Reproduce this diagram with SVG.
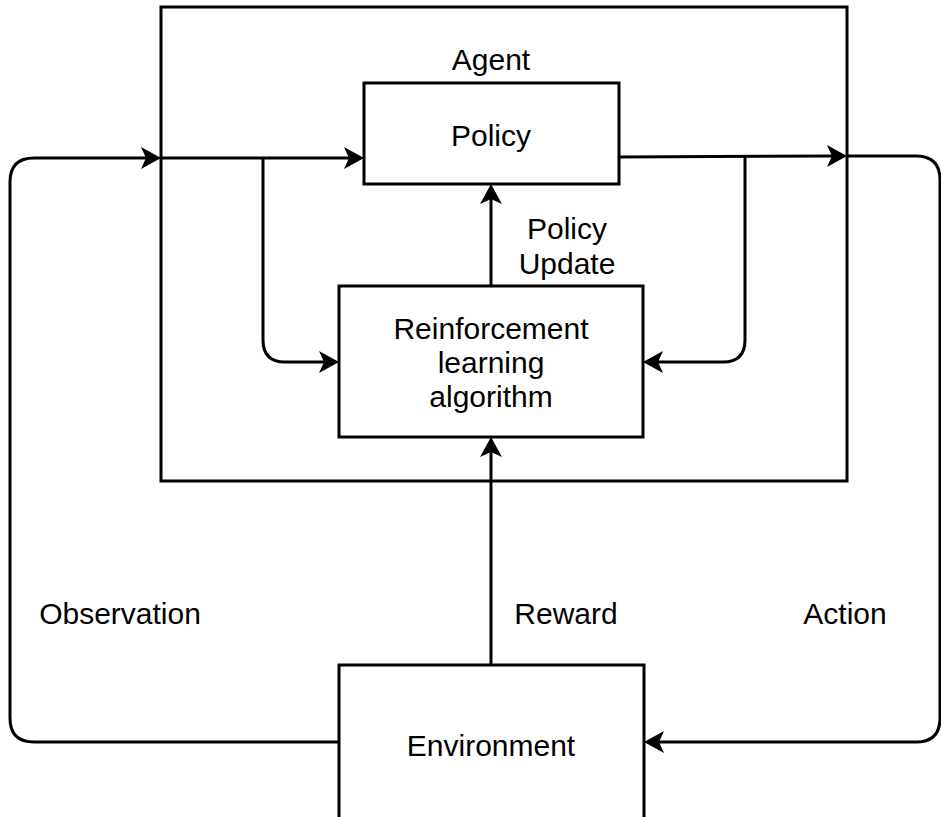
<svg xmlns="http://www.w3.org/2000/svg" width="941" height="817" viewBox="0 0 941 817">
<style>
  .box { fill: #ffffff; stroke: #000000; stroke-width: 3; }
  .edge { fill: none; stroke: #000000; stroke-width: 3; }
  text { font-family: "Liberation Sans", Arial, Helvetica, sans-serif; font-size: 30px; fill: #000000; text-anchor: middle; }
</style>
<defs>
  <marker id="arrow" markerUnits="userSpaceOnUse" markerWidth="22" markerHeight="24" viewBox="0 0 22 24" refX="6" refY="12" orient="auto">
    <path d="M1,1 L21,12 L1,23 L6,12 Z" fill="#000000"/>
  </marker>
</defs>
<rect width="941" height="817" fill="#ffffff"/>
<g id="agent">
  <rect class="box" x="161" y="7" width="686" height="474"/>
  <text x="491" y="70">Agent</text>
</g>
<g id="policy">
  <rect class="box" x="364" y="83" width="255" height="101"/>
  <text x="491" y="146">Policy</text>
</g>
<g id="rl">
  <rect class="box" x="339" y="286" width="304" height="151"/>
  <text x="491" y="339">Reinforcement</text>
  <text x="491" y="373">learning</text>
  <text x="491" y="407">algorithm</text>
</g>
<g id="environment">
  <rect class="box" x="339" y="665" width="305" height="170"/>
  <text x="491" y="756">Environment</text>
</g>
<g id="connectors">
  <path class="edge" d="M339,742 H34 Q10,742 10,718 V182 Q10,158 34,158 H146" marker-end="url(#arrow)"/>
  <path class="edge" d="M161,158 H349" marker-end="url(#arrow)"/>
  <path class="edge" d="M263,158 V340 Q263,362 285,362 H324" marker-end="url(#arrow)"/>
  <path class="edge" d="M619,157 L832,156" marker-end="url(#arrow)"/>
  <path class="edge" d="M847,156 H916 Q940,156 940,180 V718 Q940,742 916,742 H659" marker-end="url(#arrow)"/>
  <path class="edge" d="M745,157 V340 Q745,362 723,362 H658" marker-end="url(#arrow)"/>
  <path class="edge" d="M491,286 V199" marker-end="url(#arrow)"/>
  <path class="edge" d="M491,665 V452" marker-end="url(#arrow)"/>
</g>
<g id="labels">
  <text x="567" y="239">Policy</text>
  <text x="567" y="274">Update</text>
  <text x="120" y="624">Observation</text>
  <text x="566" y="624">Reward</text>
  <text x="845" y="624">Action</text>
</g>
</svg>
